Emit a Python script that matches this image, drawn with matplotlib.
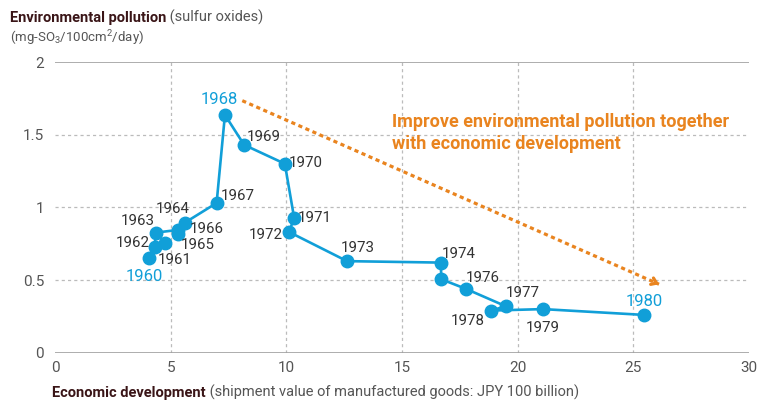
import matplotlib
matplotlib.use('Agg')
import matplotlib.pyplot as plt

# datos
anios = [1960, 1961, 1962, 1963, 1964, 1965, 1966, 1967, 1968, 1969, 1970,
         1971, 1972, 1973, 1974, 1975, 1976, 1977, 1978, 1979, 1980]
desarrollo = [4.05, 4.74, 4.31, 4.34, 5.32, 5.32, 5.61, 6.98, 7.34, 8.17, 9.93,
              10.33, 10.12, 12.62, 16.67, 16.70, 17.75, 19.48, 18.86, 21.09, 25.46]
contaminacion = [0.65, 0.755, 0.73, 0.826, 0.845, 0.815, 0.895, 1.03, 1.636, 1.43, 1.30,
                 0.93, 0.83, 0.63, 0.62, 0.505, 0.44, 0.32, 0.29, 0.30, 0.26]
anios_destacados = [1960, 1968, 1980]
x_ticks = [0, 5, 10, 15, 20, 25, 30]
y_ticks = [0, 0.5, 1, 1.5, 2]
y_tick_labels = ['0', '0.5', '1', '1.5', '2']

# desplazamiento de las etiquetas (pixeles)
offsets = {
    1960: (-5, -18), 1961: (10, -17), 1962: (-22, 4), 1963: (-18, 12),
    1964: (-6, 21), 1965: (20, -11), 1966: (22, -6), 1967: (21, 7),
    1968: (-6, 15), 1969: (20, 8), 1970: (21, 1), 1971: (21, 0),
    1972: (-23, -3), 1973: (11, 13), 1974: (18, 9), 1976: (17, 11),
    1977: (17, 13), 1978: (-24, -10), 1979: (0, -19), 1980: (0, 13),
}

# flecha de tendencia
FLECHA_INICIO = (8.09, 1.734)
FLECHA_FIN = (26.11, 0.471)
TEXTO_FLECHA = "Improve environmental pollution together\nwith economic development"

AZUL = '#119fd8'
NARANJA = '#e9841f'
GRIS = '#555555'
OSCURO = '#333333'
GRANATE = '#3a1517'

plt.rcParams['font.family'] = ['Roboto', 'DejaVu Sans']
plt.rcParams['mathtext.fontset'] = 'custom'
plt.rcParams['mathtext.rm'] = 'Roboto'

fig = plt.figure(figsize=(7.58, 4.03), dpi=100)
ax = fig.add_axes([0.0728, 0.1248, 0.9153, 0.7213])

ax.set_xlim(0, 30)
ax.set_ylim(0, 2)

# rejilla
for xv in x_ticks[1:-1]:
    ax.axvline(xv, color='#bbbbbb', lw=0.9, ls=(0, (2.5, 2.5)), zorder=0)
for yv in y_ticks[1:-1]:
    ax.axhline(yv, color='#bbbbbb', lw=0.9, ls=(0, (2.5, 2.5)), zorder=0)
ax.axhline(0, color='#a0a0a0', lw=1.2, zorder=1)
ax.axhline(2, color='#a0a0a0', lw=1.2, zorder=1)

for s in ax.spines.values():
    s.set_visible(False)

ax.set_xticks(x_ticks)
ax.set_xticklabels([str(v) for v in x_ticks])
ax.set_yticks(y_ticks)
ax.set_yticklabels(y_tick_labels)
ax.tick_params(length=0, labelsize=11, colors=GRIS, pad=6)
ax.tick_params(axis='y', pad=8)

ax.plot(desarrollo, contaminacion, color=AZUL, lw=1.9, marker='o', ms=9,
        zorder=3, clip_on=False)

for anio, x, y in zip(anios, desarrollo, contaminacion):
    if anio not in offsets:
        continue
    destacado = anio in anios_destacados
    ax.annotate(str(anio), (x, y), xytext=offsets[anio], textcoords='offset pixels',
                ha='center', va='center', fontsize=12 if destacado else 10.8,
                color=AZUL if destacado else OSCURO, zorder=4)

# flecha punteada
ax.plot([FLECHA_INICIO[0], FLECHA_FIN[0]], [FLECHA_INICIO[1], FLECHA_FIN[1]],
        color=NARANJA, lw=2.3, ls=(0, (1.3, 1.1)), zorder=2)
dx = (FLECHA_FIN[0] - FLECHA_INICIO[0]) * 0.01
dy = (FLECHA_FIN[1] - FLECHA_INICIO[1]) * 0.01
ax.annotate('', xy=FLECHA_FIN, xytext=(FLECHA_FIN[0] - dx, FLECHA_FIN[1] - dy),
            arrowprops=dict(arrowstyle='->,head_length=0.35,head_width=0.25',
                            color=NARANJA, lw=2.3, shrinkA=0, shrinkB=0))

fig.text(392 / 758, 1 - 133 / 403, TEXTO_FLECHA, color=NARANJA, fontsize=13,
         fontweight='bold', ha='left', va='center', linespacing=1.3)

# titulos
t1 = fig.text(10 / 758, 1 - 18 / 403, 'Environmental pollution', fontsize=10.5,
              fontweight='bold', color=GRANATE, va='center', ha='left')
fig.canvas.draw()
bb = t1.get_window_extent()
fig.text(bb.x1 / fig.bbox.width, bb.y0 / fig.bbox.height, ' (sulfur oxides)',
         fontsize=10.5, color=GRIS, va='bottom', ha='left')

fig.text(10 / 758, 1 - 38.5 / 403, '(mg-SO$_3$/100cm$^2$/day)', fontsize=9.5,
         color=GRIS, va='center', ha='left')

t2 = fig.text(52 / 758, 1 - 393 / 403, 'Economic development', fontsize=10.5,
              fontweight='bold', color=GRANATE, va='center', ha='left')
fig.canvas.draw()
bb2 = t2.get_window_extent()
fig.text(bb2.x1 / fig.bbox.width, bb2.y0 / fig.bbox.height,
         ' (shipment value of manufactured goods: JPY 100 billion)', fontsize=10.5,
         color=GRIS, va='bottom', ha='left')

fig.savefig('out.png', dpi=100)
